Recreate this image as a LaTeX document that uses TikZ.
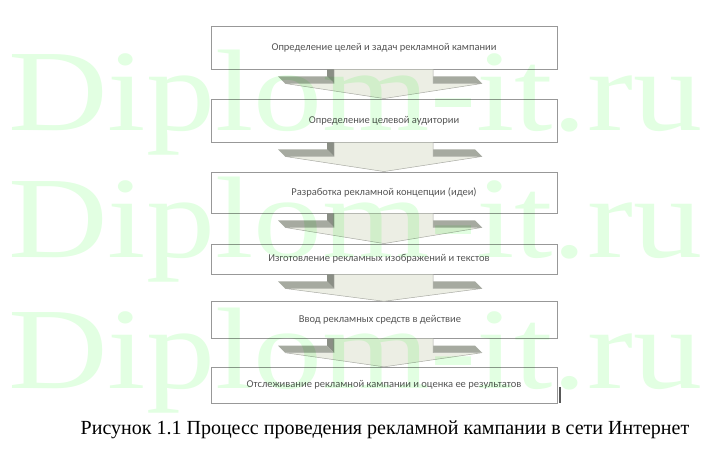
\documentclass[tikz,border=0pt]{standalone}
\usepackage{fontspec}
\usepackage{graphicx}
\setmainfont{Liberation Serif}
\newfontfamily\boxfont{Carlito}
\usetikzlibrary{calc}
\definecolor{boxline}{RGB}{152,152,152}
\definecolor{boxtext}{RGB}{85,85,85}
\definecolor{arrowface}{RGB}{236,238,228}
\definecolor{arrowwing}{RGB}{166,170,160}
\definecolor{arrowside}{RGB}{138,142,133}
\definecolor{arrowedge}{RGB}{170,172,165}
\definecolor{markgreen}{RGB}{226,255,226}
\def\stagearrow(#1)(#2){%
	\fill[arrowside] ($(#1.south)+(-57,0)$) -- ($(#1.south)+(-50,0)$) -- ($(#1.south)+(-50,14)$) -- ($(#1.south)+(-57,7)$) -- cycle;
	\fill[arrowwing] ($(#1.south)+(-106,7)$) -- ($(#1.south)+(-57,7)$) -- ($(#1.south)+(-50,14)$) -- ($(#1.south)+(-99,14)$) -- cycle;
	\fill[arrowwing] ($(#1.south)+(49,7)$) -- ($(#1.south)+(91,7)$) -- ($(#1.south)+(98,14)$) -- ($(#1.south)+(49,14)$) -- cycle;
	\filldraw[fill=arrowface, draw=arrowedge, line width=0.5] ($(#1.south)+(-50,0)$) -- ($(#1.south)+(49,0)$) -- ($(#1.south)+(49,14)$) -- ($(#1.south)+(98,14)$) -- (#2.north) -- ($(#1.south)+(-99,14)$) -- ($(#1.south)+(-50,14)$) -- cycle;
}

\begin{document}
\begin{tikzpicture}[x=1pt, y=-1pt,
		stage/.style={draw=boxline, fill=white, line width=0.9, minimum width=346, inner sep=0, text=boxtext, font=\boxfont\fontsize{10.5}{12}\selectfont},
		watermark/.style={anchor=base west, inner sep=0, text=markgreen, font=\fontsize{116}{116}\selectfont}]
		%%%%% START %%%%%
		
		\fill[white] (0, 0) rectangle (701, 460);
		\useasboundingbox (0, 0) rectangle (701, 460);
		
		\node[stage, minimum height=43] (goals) at (384, 47.5) {Определение целей и задач рекламной кампании};
		\node[stage, minimum height=43] (audience) at (384, 120.5) {Определение целевой аудитории};
		\node[stage, minimum height=41] (concept) at (384, 192.5) {Разработка рекламной концепции (идеи)};
		\node[stage, minimum height=30] (making) at (384, 259) {\hspace*{-10pt}Изготовление рекламных изображений и текстов};
		\node[stage, minimum height=36.5] (launch) at (384, 320) {\hspace*{-8pt}Ввод рекламных средств в действие};
		\node[stage, minimum height=36] (tracking) at (384, 385.3) {Отслеживание рекламной кампании и оценка ее результатов};
		
		\stagearrow(goals)(audience)
		\stagearrow(audience)(concept)
		\stagearrow(concept)(making)
		\stagearrow(making)(launch)
		\stagearrow(launch)(tracking)
		
		\draw[line width=1.2, black!65] (560, 387) -- (560, 403);
		
		\node[anchor=base, font=\fontsize{20}{24}\selectfont] (caption) at (385, 434) {Рисунок 1.1 Процесс проведения рекламной кампании в сети Интернет};
		
		% watermark over the whole scheme
		\begin{scope}[blend mode=multiply]
			\node[watermark] (mark1) at (8, 130) {\scalebox{1.19}[1]{Diplom-it.ru}};
			\node[watermark] (mark2) at (8, 257) {\scalebox{1.19}[1]{Diplom-it.ru}};
			\node[watermark] (mark3) at (8, 388) {\scalebox{1.19}[1]{Diplom-it.ru}};
		\end{scope}
		
		%%%%% END %%%%%
	\end{tikzpicture}
\end{document}
